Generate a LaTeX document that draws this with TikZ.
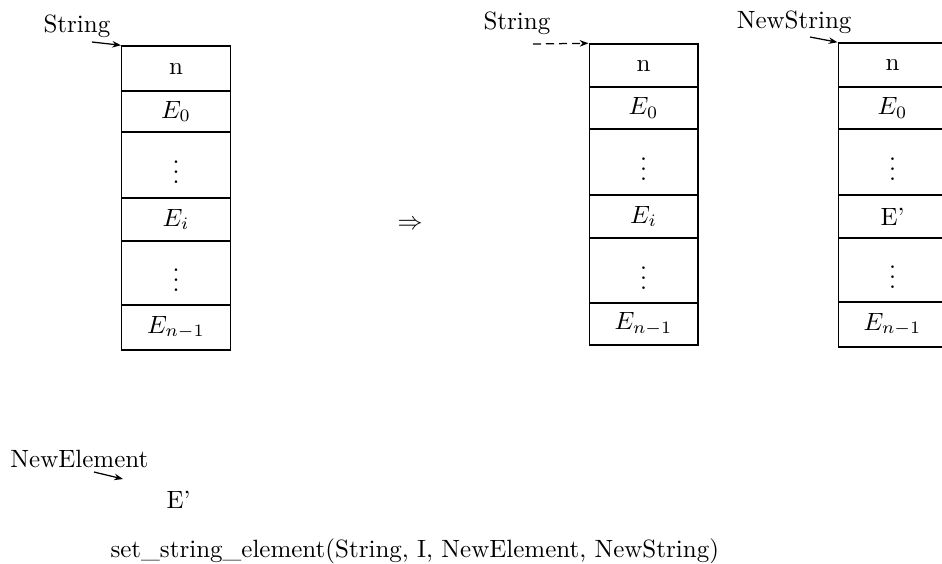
\documentclass[tikz,border=0pt]{standalone}
\usetikzlibrary{arrows.meta}
\begin{document}
\begin{tikzpicture}[x=0.4pt,y=-0.4pt,
  cell/.style={draw,line width=0.6pt,inner sep=0pt,minimum width=43.4pt},
  ptr/.style={line width=0.5pt,-{Stealth[length=3.5pt,width=2.6pt]}},
  lbl/.style={inner sep=0pt,anchor=base west}]
\useasboundingbox (0,0) rectangle (942,563);
% left string
\node[cell,minimum height=18pt]   (L1) at (176,68.5)  {n};
\node[cell,minimum height=16.4pt] (L2) at (176,111.5) {$E_0$};
\node[cell,minimum height=26.4pt] (L3) at (176,165)   {$\vdots$};
\node[cell,minimum height=17.2pt] (L4) at (176,219.5) {$E_i$};
\node[cell,minimum height=25.6pt] (L5) at (176,273)   {$\vdots$};
\node[cell,minimum height=18pt]   (L6) at (176,327.5) {$E_{n-1}$};
% middle string
\node[cell,minimum height=17.2pt] (M1) at (643.5,65.5)  {n};
\node[cell,minimum height=16.8pt] (M2) at (643.5,108)   {$E_0$};
\node[cell,minimum height=26.4pt] (M3) at (643.5,162)   {$\vdots$};
\node[cell,minimum height=17.2pt] (M4) at (643.5,216.5) {$E_i$};
\node[cell,minimum height=26pt]   (M5) at (643.5,270.5) {$\vdots$};
\node[cell,minimum height=16.8pt] (M6) at (643.5,324)   {$E_{n-1}$};
% right string
\node[cell,minimum height=17.6pt] (R1) at (892.5,65)    {n};
\node[cell,minimum height=16.8pt] (R2) at (892.5,108)   {$E_0$};
\node[cell,minimum height=26.4pt] (R3) at (892.5,162)   {$\vdots$};
\node[cell,minimum height=17.2pt] (R4) at (892.5,216.5) {E'};
\node[cell,minimum height=25.6pt] (R5) at (892.5,270)   {$\vdots$};
\node[cell,minimum height=18pt]   (R6) at (892.5,324.5) {$E_{n-1}$};
% labels
\node[lbl] (tS1) at (43,32) {String};
\node[lbl] (tS2) at (483,29) {String};
\node[inner sep=0pt,anchor=base east] (tNS) at (852,28) {NewString};
\node[lbl] (tNE) at (10,467) {NewElement};
\node[lbl] (tEp) at (166,508) {E'};
\node[lbl] (tcall) at (110,557) {set\_string\_element(String, I, NewElement, NewString)};
\node (imp) at (410,225) {$\Rightarrow$};
% pointers
\coordinate (p1) at (92,42);
\coordinate (p2) at (533,44);
\coordinate (p3) at (810,37);
\coordinate (p4) at (94,472);
\coordinate (p4e) at (123,479);
\draw[ptr] (p1) -- (L1.north west);
\draw[ptr,dash pattern=on 3.2pt off 2pt] (p2) -- (M1.north west);
\draw[ptr] (p3) -- (R1.north west);
\draw[ptr] (p4) -- (p4e);
\end{tikzpicture}
\end{document}
